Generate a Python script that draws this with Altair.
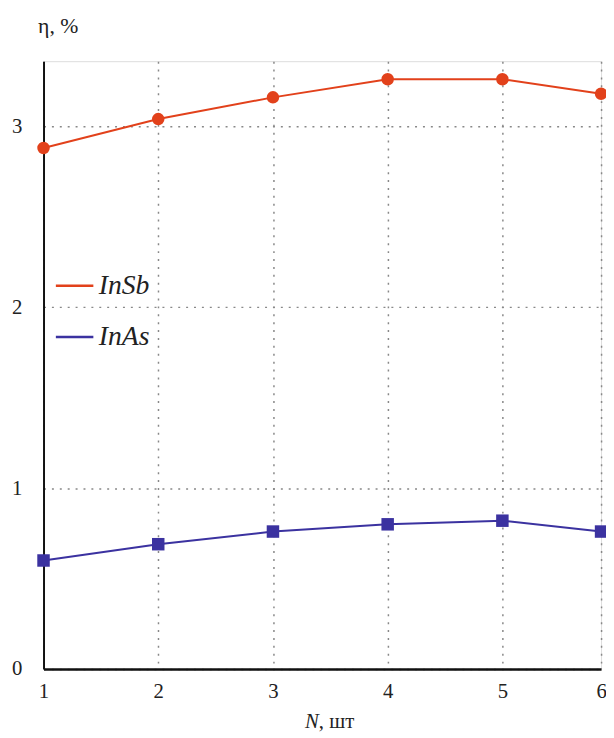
import altair as alt
import pandas as pd

n_values = [1, 2, 3, 4, 5, 6]
insb = [2.88, 3.04, 3.16, 3.26, 3.26, 3.18]
inas = [0.60, 0.69, 0.76, 0.80, 0.82, 0.76]
series_names = ["InSb", "InAs"]
series_colors = ["#e2411b", "#3b32a0"]
series_shapes = ["circle", "square"]
x_ticks = [1, 2, 3, 4, 5, 6]
y_ticks = [0, 1, 2, 3]

rows = []
for name, vals in zip(series_names, [insb, inas]):
    for n, v in zip(n_values, vals):
        rows.append({"N": n, "eta": v, "series": name})
df = pd.DataFrame(rows)

x_enc = alt.X("N:Q", scale=alt.Scale(domain=[1, 5, 6], range=[0, 465, 565], nice=False, zero=False),
              axis=alt.Axis(values=x_ticks, format="d", title=None, labelFont="Liberation Serif",
                            labelFontSize=21, labelColor="#222", labelPadding=12,
                            ticks=False, domainColor="#111", domainWidth=2.5,
                            grid=True, gridDash=[2, 6], gridColor="#888", gridWidth=1.5,
                            labelFlush=False))
y_enc = alt.Y("eta:Q", scale=alt.Scale(domain=[0, 3.36], nice=False),
              axis=alt.Axis(values=y_ticks, format="d", title="η, %", titleAngle=0, titleX=-6, titleY=-29,
                            titleAlign="left", titleBaseline="alphabetic",
                            titleFont="Liberation Serif", titleFontSize=22, titleFontWeight="normal",
                            titleColor="#222",
                            labelFont="Liberation Serif", labelFontSize=21, labelColor="#222",
                            labelPadding=22, ticks=False, domainColor="#111", domainWidth=2,
                            grid=True, gridDash=[2, 6], gridColor="#888", gridWidth=1.5))

color_scale = alt.Scale(domain=series_names, range=series_colors)

lines = alt.Chart(df).mark_line(strokeWidth=2).encode(
    x=x_enc, y=y_enc,
    color=alt.Color("series:N", scale=color_scale,
                    legend=alt.Legend(orient="none", legendX=11, legendY=207, title=None,
                                      symbolType="stroke", symbolSize=1444, symbolStrokeWidth=2.5,
                                      labelFont="Liberation Serif", labelFontStyle="italic",
                                      labelFontSize=28, labelColor="#222", labelOffset=4,
                                      rowPadding=17, padding=0, labelLimit=200)),
)

point_layers = []
for name, color, shape in zip(series_names, series_colors, series_shapes):
    point_layers.append(
        alt.Chart(df).transform_filter(alt.datum.series == name)
        .mark_point(filled=True, opacity=1, size=160, shape=shape, color=color)
        .encode(x="N:Q", y="eta:Q")
    )

title_n = alt.Chart(pd.DataFrame({"t": ["N"]})).mark_text(
    font="Liberation Serif", fontStyle="italic", fontSize=21, align="right",
    baseline="alphabetic", color="#222"
).encode(x=alt.value(279), y=alt.value(676), text="t:N")

title_rest = alt.Chart(pd.DataFrame({"t": [", шт"]})).mark_text(
    font="Liberation Serif", fontSize=21, align="left", baseline="alphabetic", color="#222"
).encode(x=alt.value(279), y=alt.value(676), text="t:N")

chart = alt.layer(lines, *point_layers, title_n, title_rest).properties(
    width=565, height=616,
    autosize=alt.AutoSizeParams(type="none"),
    padding={"left": 36, "top": 49, "right": 5, "bottom": 65},
).configure_view(stroke="#444", strokeWidth=2).configure(background="white")

chart.save("out.html", embed_options={"renderer": "svg", "actions": False})
